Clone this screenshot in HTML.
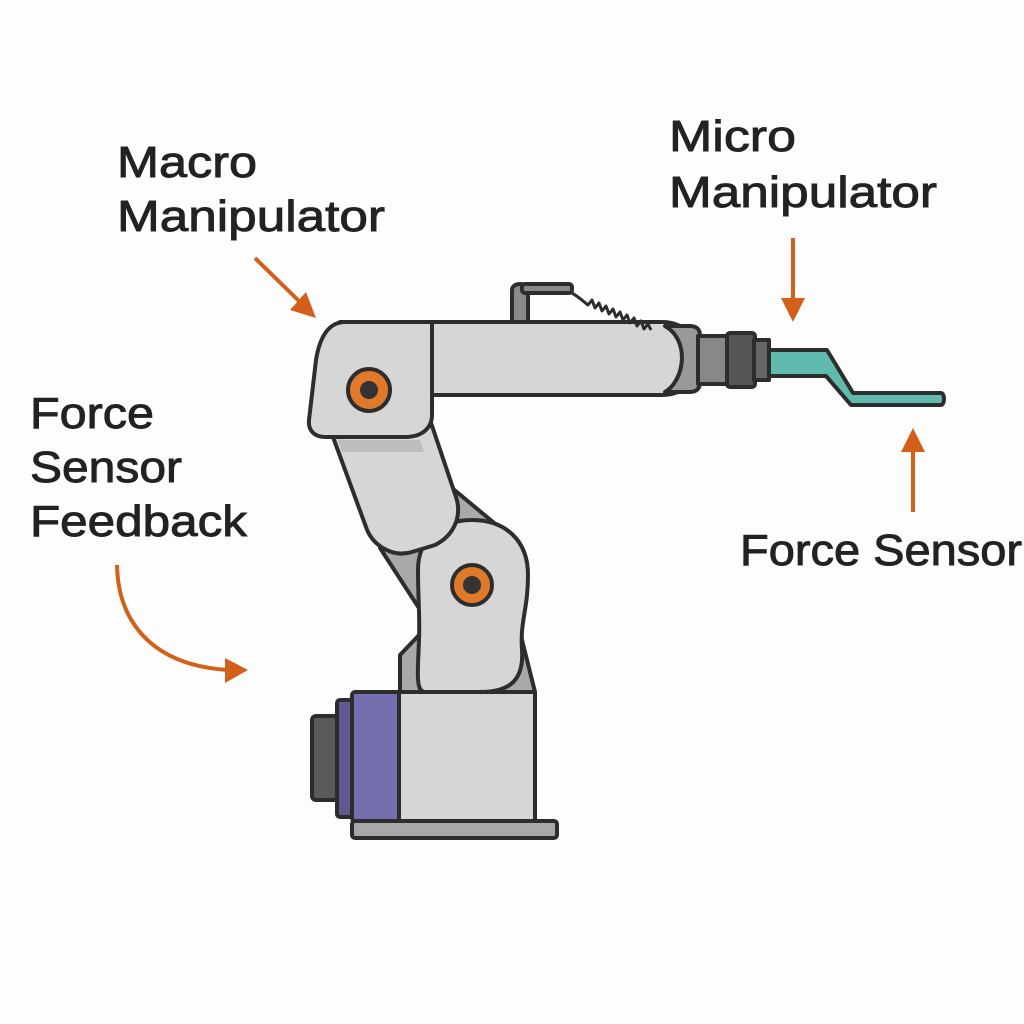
<!DOCTYPE html>
<html><head><meta charset="utf-8"><style>
html,body{margin:0;padding:0;background:#fdfdfd;}
svg{display:block}
text{font-family:"Liberation Sans","DejaVu Sans",sans-serif;fill:#222;stroke:#222;stroke-width:0.9;}
</style></head><body>
<svg width="1024" height="1024" viewBox="0 0 1024 1024" xmlns="http://www.w3.org/2000/svg">
<rect width="1024" height="1024" fill="#fdfdfd"/>
<g stroke="#2d2d2d" stroke-width="4" stroke-linejoin="round">
<polygon points="380,548 452,488 505,532 428,622" fill="#a9a9a9"/>
<path d="M400,692 L400,655 L422,632 L520,632 L535,692 Z" fill="#a9a9a9"/>
<rect x="312" y="716" width="28" height="84" rx="4" fill="#5a5a5a"/>
<rect x="337" y="700" width="17" height="117" rx="3" fill="#5e5a90"/>
<rect x="352" y="692" width="48" height="129" rx="3" fill="#7470b0"/>
<rect x="399" y="692" width="136" height="129" fill="#d6d6d6"/>
<rect x="352" y="821" width="205" height="17" rx="3" fill="#a8a8a8"/>
<path d="M418,570 C418,535 445,520 472,520 C505,520 528,540 528,575 C528,610 520,620 522,650 C524,680 510,692 480,692 L425,692 C415,692 418,670 419,640 C420,615 418,600 418,570 Z" fill="#d6d6d6"/>
<circle cx="472" cy="585" r="20" fill="#e07a2a"/>
<circle cx="472" cy="585" r="9" fill="#333" stroke="none"/>
<path d="M333,437 L425,405 L456,497 C462,515 455,535 435,545 L412,552 C392,558 372,545 366,527 Z" fill="#d6d6d6"/>
<path d="M338,440 L420,440 L424,452 L342,452 Z" fill="#bdbdbd" stroke="none"/>
<path d="M340,322 L432,322 L432,415 C432,428 422,437 405,437 L325,437 C314,437 308,430 309,420 L316,360 C320,335 330,322 345,322 Z" fill="#d6d6d6"/>
<circle cx="369" cy="390" r="21" fill="#e07a2a"/>
<circle cx="369" cy="390" r="9" fill="#333" stroke="none"/>
<path d="M512,322 L512,290 C512,282 528,282 528,290 L528,322 Z" fill="#8a8a8a"/>
<rect x="522" y="284" width="50" height="9" rx="3" fill="#8a8a8a"/>
<path d="M432,322 L662,322 C685,322 700,340 700,358 C700,378 685,395 662,395 L432,395 Z" fill="#d6d6d6"/>
<path d="M665,326 L690,326 C697,326 700,330 700,335 L700,382 C700,388 697,392 690,392 L665,392 C685,380 690,340 665,326 Z" fill="#999"/>
<rect x="698" y="336" width="31" height="48" fill="#888"/>
<rect x="727" y="333" width="28" height="54" rx="3" fill="#555"/>
<rect x="754" y="340" width="15" height="40" fill="#666"/>
<path d="M769,350 L827,350 L853,393 L941,393 C945,393 945,405 941,405 L851,405 L826,376 L769,376 Z" fill="#5ebbad"/>
</g>
<path d="M570,292 C578,296 584,302 588,305 l4,-5 l3,8 l4,-5 l3,8 l4,-5 l3,8 l4,-5 l3,8 l4,-5 l3,8 l4,-5 l3,8 l4,-5 l3,8 l4,-5 l3,8 l4,-5 l3,6" fill="none" stroke="#2d2d2d" stroke-width="3" stroke-linejoin="round"/>
<g stroke="#d2601a" stroke-width="4" fill="none">
<line x1="255" y1="258" x2="300" y2="302"/>
<line x1="793" y1="238" x2="793" y2="302"/>
<line x1="913" y1="512" x2="913" y2="448"/>
<path d="M117,565 C118,620 150,665 228,670"/>
</g>
<g fill="#d2601a">
<polygon points="316,318 290,310 306,292"/>
<polygon points="793,322 781,298 805,298"/>
<polygon points="913,428 901,452 925,452"/>
<polygon points="248,670 225,658 225,683"/>
</g>
<g font-size="44">
<text x="117" y="177" textLength="140" lengthAdjust="spacingAndGlyphs">Macro</text>
<text x="117" y="231" textLength="268" lengthAdjust="spacingAndGlyphs">Manipulator</text>
<text x="669" y="151" textLength="127" lengthAdjust="spacingAndGlyphs">Micro</text>
<text x="669" y="207" textLength="268" lengthAdjust="spacingAndGlyphs">Manipulator</text>
<text x="30" y="428" textLength="124" lengthAdjust="spacingAndGlyphs">Force</text>
<text x="30" y="482" textLength="152" lengthAdjust="spacingAndGlyphs">Sensor</text>
<text x="30" y="536" textLength="217" lengthAdjust="spacingAndGlyphs">Feedback</text>
<text x="740" y="565" textLength="282" lengthAdjust="spacingAndGlyphs">Force Sensor</text>
</g>
</svg>
</body></html>
